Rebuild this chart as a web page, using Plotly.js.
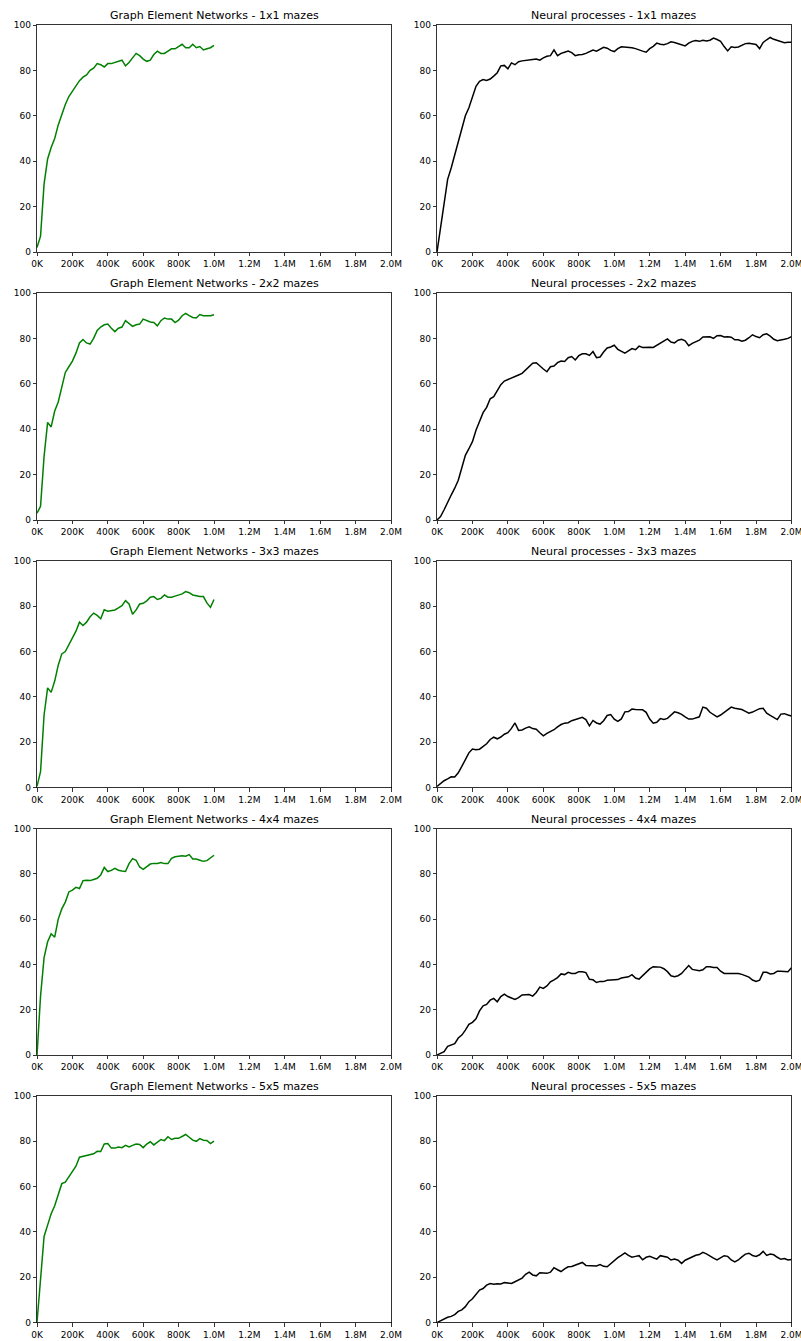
<!DOCTYPE html>
<html>
<head>
<meta charset="utf-8">
<script src="https://cdn.plot.ly/plotly-3.0.1.min.js"></script>
<style>
  html, body { margin: 0; padding: 0; background: #fff; }
  #chart { width: 801px; height: 1341px; }
</style>
</head>
<body>
<div id="chart"></div>
<script>
// ---- Data (training steps in thousands, success rate in %) ----
const genSteps = [0,20,40,60,80,100,120,140,160,180,200,220,240,260,280,300,320,340,360,380,
  400,420,440,460,480,500,520,540,560,580,600,620,640,660,680,700,720,740,760,780,
  800,820,840,860,880,900,920,940,960,980,1000];

const npSteps = [0,20,40,60,80,100,120,140,160,180,200,220,240,260,280,300,320,340,360,380,
  400,420,440,460,480,500,520,540,560,580,600,620,640,660,680,700,720,740,760,780,
  800,820,840,860,880,900,920,940,960,980,1000,1020,1040,1060,1080,1100,1120,1140,1160,1180,
  1200,1220,1240,1260,1280,1300,1320,1340,1360,1380,1400,1420,1440,1460,1480,1500,1520,1540,1560,1580,
  1600,1620,1640,1660,1680,1700,1720,1740,1760,1780,1800,1820,1840,1860,1880,1900,1920,1940,1960,1980,2000];

const gen1x1 = [2,7,30,41,46,50,56,61,65,68.5, 71,73,75.5,77,78,80,81,83,82.5,81.5,
  83,83,83.5,84,84.5,82,83.5,85.5,87.5,86.5, 85,84,84.5,87,88.5,87.5,87.5,88.5,89.5,89.5,
  90.5,91.5,90,90,91.5,90,90.5,89,89.5,90, 91];
const gen2x2 = [3,6,28,43,41,48,52,58,65,67.5, 70,73.5,78,79.5,78,77.5,80,83.5,85,86,
  86.3,84.5,83,84.5,85,87.8,86.5,85.3,86,86.3, 88.5,87.8,87.2,87,85.5,87.8,89,88.5,88.5,87,
  88,90,91,90,89.2,89,90.5,90,90,90, 90.4];
const gen3x3 = [0.5,7,32,44,42,47,54,59,60,63, 66,69,73,71.5,73,75.4,77,76,74.5,78.5,
  77.8,78,78.4,79.3,80.3,82.5,81,76.5,78.4,81, 81.3,82.4,84,84.3,83,83.5,85,84,84,84.5,
  85,85.5,86.5,86,85,84.5,84.3,84.3,81.5,79.5, 83];
const gen4x4 = [0,26,43,50,53.5,52,60,64.5,67.5,72, 72.8,74,73.5,77,77.2,77,77.5,78,79.5,82.8,
  81,81.5,82.4,81.6,81.2,81,84.5,86.7,86,83, 82,83,84.3,84.6,84.6,85,84.5,84.5,86.8,87.5,
  87.8,88,87.8,88.5,86.5,86.5,86,85.5,85.8,87, 88.2];
const gen5x5 = [0,21,38,43,48,51.5,56,61.3,62,64.5, 66.5,69,73,73.4,73.8,74.2,74.5,75.6,75.5,78.8,
  79,77,77,77.5,77.2,78.2,77.5,78.2,78.8,78.6, 77.2,78.8,79.8,78.4,79.5,80.8,80.3,82,80.8,81.3,
  81.3,82,83,81.8,80.5,80,81.2,80.5,80.4,79, 80.1];

const np1x1 = [0,11,22,32,37,43,48.5,55,60,63.5,
  68.5,73,75.2,76,75.6,76.2,77.5,79,82,82.2,
  80.7,83.3,82.5,83.8,84.2,84.5,84.5,84.8,85,84.5,
  85.5,86.2,86.5,89,86.5,87.5,88,88.5,87.8,86.5,
  86.9,87,87.5,88.2,89,88.5,89.5,90.2,89.8,88.8,
  88.3,89.6,90.4,90.3,90.2,90,89.6,89.2,88.5,88,
  89.6,90.6,92,91.5,91.3,91.8,92.6,92.3,91.8,91.3,
  90.8,92,92.8,93.2,92.8,93.3,93,93.3,94.2,93.6,
  92.8,90.5,88.6,90.4,90.1,90.3,90.9,91.8,92,91.8,
  91.4,89.6,92.3,93.5,94.5,93.7,93.2,92.8,92.2,92.4,
  92.4];
const np2x2 = [0,1.5,4.5,8,11,14,17.5,23,28.5,31.4,
  34.5,39.5,43.7,47.3,49.6,53.4,54.3,57,59.6,61.2,
  61.8,62.4,63,63.9,64.6,66.2,67.8,69.1,69.3,67.8,
  66.5,65.3,67.5,67.8,69.3,70,69.8,71.5,72,70.5,
  72.4,73.2,73.2,72.5,74.2,71.5,71.8,74,75.8,76.2,
  77,75.2,74.5,73.5,74.5,75.5,75,76.6,76,76.2,
  76.1,76,77,77.8,78.7,79.8,78.4,78,79.2,79.6,
  78.9,76.8,77.8,78.6,79.2,80.6,80.8,80.7,80,81.2,
  81.3,80.6,80.7,80.5,79.4,79.4,78.8,79.2,80.3,81.6,
  80.8,80.3,81.6,82,81,79.6,79,79.2,79.6,80,
  80.8];
const np3x3 = [0.5,1.8,3,3.8,4.7,4.6,6.5,9.3,12.3,15.3,
  17,16.7,16.9,18,19.3,21.2,22.2,21.5,22.3,23.5,
  24.2,26.1,28.5,25.2,25.4,26.2,26.8,26,25.7,24.2,
  22.8,23.9,24.7,25.5,26.8,27.8,28.4,28.6,29.5,30,
  30.6,31,30,27.2,29.6,28.5,28,29.5,31.8,32.2,
  30.2,29.2,30.3,33.4,33.5,34.6,34.4,34.3,34.3,33.2,
  30.2,28.4,28.8,30.4,30,30.5,32,33.4,33,32.3,
  31.2,30.2,30.2,30.6,31.2,35.5,35,33.2,32.2,31.2,
  32,33.2,34,35.5,35,34.6,34.4,33.6,32.8,33.3,
  34,34.8,35,32.8,31.8,31,30,32.4,32.6,32,
  31.6];
const np4x4 = [0,0.7,1.5,3.8,4.5,5,7.5,8.8,11,13.5,
  14.4,16,19.5,21.7,22.3,24.2,25,23.5,25.8,26.9,
  25.8,25.2,24.5,25.3,26.5,26.6,26.7,26,27.6,30,
  29.4,30.5,32.3,33.2,34.2,35.8,35.5,36.5,36,36,
  36.8,36.8,36.4,33.4,33.2,32,32.5,32.4,33,33.1,
  33.1,33.3,34,34.4,34.5,35.5,34,33.5,35,36.5,
  38,39,39,38.8,38.1,36.8,35,34.6,35,36,
  37.8,39.5,37.8,37.5,37.2,37.6,39,39,38.6,38.6,
  37,36,36,35.8,35.8,36,35.6,35,34.4,33.1,
  32.5,33,36.5,36.5,35.8,36,37,37,36.8,36.8,
  38.5];
const np5x5 = [0,0.8,1.3,2.3,2.7,3.5,4.9,5.6,7,9.2,
  10.5,12.4,14.3,15,16.5,17.2,16.9,17.1,17,17.6,
  17.4,17.2,18,18.8,19.6,21.3,22.2,21,20.6,22,
  22,21.7,22.2,24.2,23.3,22.5,23.7,24.6,24.7,25.4,
  26.1,26.5,25.2,25.1,25.2,25,25.6,24.8,24.6,26,
  27.3,28.6,29.6,30.7,29.6,28.8,29.2,29.5,27.7,28.8,
  29.2,28.6,28,29.5,29.2,28.8,27.6,28,27.5,26.1,
  27.5,28.3,29.2,29.7,30,31,30.3,29.2,28.4,27.6,
  28.5,29.5,29.2,27.6,26.8,27.6,29,30.2,30.6,29.6,
  29.2,29.9,31.4,29.6,30.2,29.9,28.8,27.9,28.2,27.6,
  27.8];

const mazeSizes = ['1x1','2x2','3x3','4x4','5x5'];
const genSeries = [gen1x1, gen2x2, gen3x3, gen4x4, gen5x5];
const npSeries = [np1x1, np2x2, np3x3, np4x4, np5x5];

const xTickVals = [0,200,400,600,800,1000,1200,1400,1600,1800,2000];
const xTickText = ['0K','200K','400K','600K','800K','1.0M','1.2M','1.4M','1.6M','1.8M','2.0M'];
const yTickVals = [0,20,40,60,80,100];

// ---- Layout geometry (pixels) ----
const W = 801, H = 1341;
const cols = [[37, 391], [437, 791.5]];
const rows = [[25, 252], [293, 520], [561, 787.5], [828.5, 1055], [1096, 1322.5]];

const FONT = 'DejaVu Sans, Liberation Sans, Arial, sans-serif';
const traces = [];
const layout = {
  width: W, height: H,
  margin: {l: 0, r: 0, t: 0, b: 0, pad: 0},
  paper_bgcolor: '#ffffff',
  plot_bgcolor: '#ffffff',
  showlegend: false,
  font: {family: FONT, size: 9, color: '#000'},
  annotations: []
};

let idx = 0;
for (let r = 0; r < 5; r++) {
  for (let c = 0; c < 2; c++) {
    idx++;
    const xn = idx === 1 ? 'xaxis' : 'xaxis' + idx;
    const yn = idx === 1 ? 'yaxis' : 'yaxis' + idx;
    const xr = idx === 1 ? 'x' : 'x' + idx;
    const yr = idx === 1 ? 'y' : 'y' + idx;
    const isGen = c === 0;
    traces.push({
      type: 'scatter', mode: 'lines',
      x: isGen ? genSteps : npSteps,
      y: isGen ? genSeries[r] : npSeries[r],
      xaxis: xr, yaxis: yr,
      line: {color: isGen ? '#008000' : '#000000', width: 1.5},
      hoverinfo: 'skip'
    });
    const common = {
      showgrid: false, zeroline: false,
      showline: true, mirror: true, linecolor: '#000', linewidth: 0.8,
      ticks: 'outside', ticklen: 3.5, tickwidth: 0.8, tickcolor: '#000',
      tickfont: {family: FONT, size: 9, color: '#000'},
      fixedrange: true, ticklabeloverflow: 'allow'
    };
    layout[xn] = Object.assign({}, common, {
      domain: [cols[c][0] / W, cols[c][1] / W],
      anchor: yr,
      range: [0, 2000],
      tickmode: 'array', tickvals: xTickVals, ticktext: xTickText
    });
    layout[yn] = Object.assign({}, common, {
      domain: [1 - rows[r][1] / H, 1 - rows[r][0] / H],
      anchor: xr,
      range: [0, 100],
      tickmode: 'array', tickvals: yTickVals
    });
    layout.annotations.push({
      xref: 'paper', yref: 'paper',
      x: (cols[c][0] + cols[c][1]) / 2 / W,
      y: 1 - rows[r][0] / H,
      xanchor: 'center', yanchor: 'bottom', yshift: 1,
      showarrow: false,
      text: (isGen ? 'Graph Element Networks' : 'Neural processes') + ' - ' + mazeSizes[r] + ' mazes',
      font: {family: FONT, size: 11, color: '#000'}
    });
  }
}

Plotly.newPlot('chart', traces, layout, {displayModeBar: false, staticPlot: true});
</script>
</body>
</html>
